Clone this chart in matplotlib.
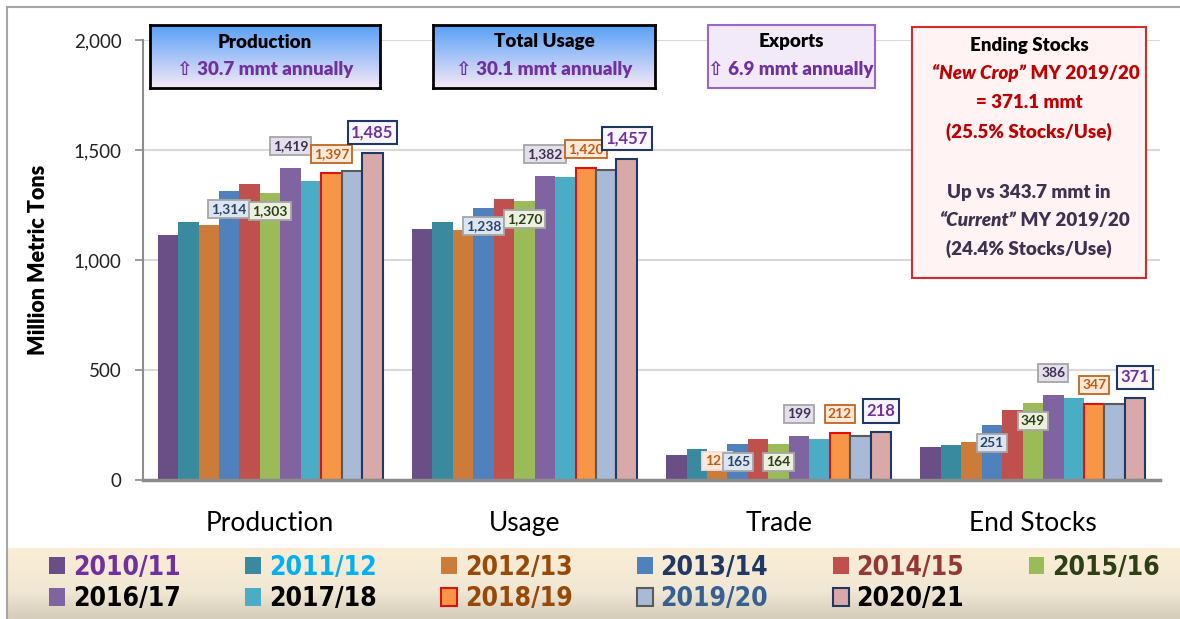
import numpy as np
import matplotlib.pyplot as plt
from matplotlib.patches import Rectangle

plt.rcParams['font.family'] = ['Lato', 'DejaVu Sans']

categories = ['Production', 'Usage', 'Trade', 'End Stocks']
years = ['2010/11', '2011/12', '2012/13', '2013/14', '2014/15', '2015/16',
         '2016/17', '2017/18', '2018/19', '2019/20', '2020/21']
production = [1113, 1173, 1161, 1314, 1346, 1303, 1419, 1358, 1397, 1403, 1485]
usage = [1142, 1172, 1137, 1238, 1279, 1270, 1382, 1376, 1420, 1409, 1457]
trade = [114, 143, 123, 165, 186, 164, 199, 186, 212, 201, 218]
end_stocks = [152, 157, 175, 251, 319, 349, 386, 374, 347, 345, 371]

# which bars carry a value label, per category
labeled = [[3, 5, 6, 8, 10], [3, 5, 6, 8, 10], [2, 3, 5, 6, 8, 10], [3, 5, 6, 8, 10]]

bar_colors = ['#6A4E86', '#3A8A9F', '#CD7B38', '#4F81BD', '#C0504D', '#9BBB59',
              '#8064A2', '#4BACC6', '#F79646', '#A9BAD6', '#D9A8A8']
edge_colors = ['none'] * 8 + ['#E01010', '#5A5A5A', '#1F3864']
legend_colors = ['#7030A0', '#00B0F0', '#984807', '#1F3864', '#953735', '#2C3F16',
                 'black', 'black', '#984807', '#366092', 'black']

# label look per series: face, edge, text colour, size, offset (px)
label_style = {
    2: ('#FDEADA', '#F2DCDB', '#C55A11', 10, -8),
    3: ('#DCE6F2', '#A6A6A6', '#2B4468', 10, -18),
    5: ('#EBF1DE', '#A6A6A6', '#2C3F16', 10, -18),
    6: ('#E4DFEC', '#A6A6A6', '#403151', 10, 22),
    8: ('#FDEADA', '#C0651E', '#C55A11', 10, 19),
    10: ('#F9F7FD', '#1F3864', '#7030A0', 12, 21),
}

W, H = 1180, 619
fig = plt.figure(figsize=(W / 100, H / 100), dpi=100)
fig.patch.set_facecolor('white')


def fbox(x0, y0, x1, y1):
    return [x0 / W, 1 - y1 / H, (x1 - x0) / W, (y1 - y0) / H]


def fx(x):
    return x / W


def fy(y):
    return 1 - y / H


ax = fig.add_axes(fbox(143, 40, 1160, 480))

values = np.array([production, usage, trade, end_stocks])
x = np.arange(len(categories))
n = len(years)
w = 0.885 / n

handles = []
for i in range(n):
    ec = edge_colors[i]
    b = ax.bar(x + (i - (n - 1) / 2) * w, values[:, i], w, color=bar_colors[i],
               edgecolor=ec, linewidth=1.5 if ec != 'none' else 0, zorder=2,
               label=years[i])
    handles.append(b)

for c in range(len(categories)):
    for i in labeled[c]:
        fc, ecl, tc, fs, off = label_style[i]
        v = values[c, i]
        ax.annotate(f'{v:,}', xy=(x[c] + (i - (n - 1) / 2) * w, v),
                    xytext=(0, off * 0.72), textcoords='offset points',
                    ha='center', va='center', fontsize=fs, fontweight='bold',
                    color=tc, zorder=4,
                    bbox=dict(boxstyle='square,pad=0.22', fc=fc, ec=ecl,
                              lw=1.5 if i == 10 else 1.3))

ax.set_xlim(-0.5, 3.5)
ax.set_ylim(0, 2000)
ax.set_yticks([0, 500, 1000, 1500, 2000])
ax.set_yticklabels(['0', '500', '1,000', '1,500', '2,000'])
ax.set_xticks(x)
ax.set_xticklabels(categories)
ax.tick_params(axis='x', length=0, pad=22, labelsize=19)
ax.tick_params(axis='y', length=5.5, width=1.2, pad=10, labelsize=13.5,
               colors='#8C8C8C', labelcolor='#222222')
ax.grid(axis='y', color='#D9D9D9', linewidth=1.5)
ax.set_axisbelow(True)
for s in ['top', 'right']:
    ax.spines[s].set_visible(False)
ax.spines['left'].set_color('#8C8C8C')
ax.spines['left'].set_linewidth(1.5)
ax.spines['bottom'].set_color('#8C8C8C')
ax.spines['bottom'].set_linewidth(2.5)
ax.set_ylabel('Million Metric Tons', fontsize=15.5, fontweight='heavy')
ax.yaxis.set_label_coords(-0.092, 0.5)

# gradient boxes for Production and Total Usage
top = np.array([88, 160, 246]) / 255
bot = np.array([246, 233, 247]) / 255
t = np.linspace(0, 1, 100)[:, None]
grad = (top * (1 - t) + bot * t)[:, None, :]
for (x0, x1), title, sub in [((150, 380), 'Production', '⇧ 30.7 mmt annually'),
                             ((433, 655), 'Total Usage', '⇧ 30.1 mmt annually')]:
    bx = fig.add_axes(fbox(x0, 25, x1, 88))
    bx.imshow(grad, aspect='auto', extent=(0, 1, 0, 1))
    bx.set_xticks([])
    bx.set_yticks([])
    for s in bx.spines.values():
        s.set_linewidth(2)
        s.set_color('black')
    cx = (x0 + x1) / 2
    fig.text(fx(cx), fy(42), title, ha='center', va='center', fontsize=13.5,
             fontweight='heavy', color='black')
    fig.text(fx(cx), fy(69), sub, ha='center', va='center', fontsize=13.5,
             fontweight='heavy', color='#7030A0')

# exports box
fig.add_artist(Rectangle((fx(708), fy(88)), (875 - 708) / W, 63 / H,
                         transform=fig.transFigure, fc='#F2EAF9', ec='#9966CC',
                         lw=1.5, zorder=2.5))
fig.text(fx(791), fy(41), 'Exports', ha='center', va='center', fontsize=13.5,
         fontweight='heavy', color='black')
fig.text(fx(791), fy(69), '⇧ 6.9 mmt annually', ha='center', va='center',
         fontsize=13.5, fontweight='heavy', color='#7030A0')

# ending stocks box
fig.add_artist(Rectangle((fx(912), fy(278)), (1146 - 912) / W, (278 - 27) / H,
                         transform=fig.transFigure, fc='#FFF3F3', ec='#D42A2A',
                         lw=1.5, zorder=2.5))
red = '#C00000'
dark = '#403151'
cx = 1029
fs_box = 13.5
fig.text(fx(cx), fy(45), 'Ending Stocks', ha='center', va='center',
         fontsize=fs_box, fontweight='heavy', color='black')
fig.text(fx(1026), fy(73), '\u201cNew Crop\u201d', ha='right', va='center',
         fontsize=fs_box, fontweight='heavy', style='italic', color=red)
fig.text(fx(1026), fy(73), ' MY 2019/20', ha='left', va='center',
         fontsize=fs_box, fontweight='heavy', color=red)
fig.text(fx(cx), fy(103), '= 371.1 mmt', ha='center', va='center',
         fontsize=fs_box, fontweight='heavy', color=red)
fig.text(fx(cx), fy(132), '(25.5% Stocks/Use)', ha='center', va='center',
         fontsize=fs_box, fontweight='heavy', color=red)
fig.text(fx(cx), fy(192), 'Up vs 343.7 mmt in', ha='center', va='center',
         fontsize=fs_box, fontweight='heavy', color=dark)
fig.text(fx(1016), fy(220), '\u201cCurrent\u201d', ha='right', va='center',
         fontsize=fs_box, fontweight='heavy', style='italic', color=dark)
fig.text(fx(1016), fy(220), ' MY 2019/20', ha='left', va='center',
         fontsize=fs_box, fontweight='heavy', color=dark)
fig.text(fx(cx), fy(249), '(24.4% Stocks/Use)', ha='center', va='center',
         fontsize=fs_box, fontweight='heavy', color=dark)

# legend band
lb = fig.add_axes(fbox(7, 548, 1180, 619))
c1 = np.array([252, 238, 214]) / 255
c2 = np.array([240, 231, 212]) / 255
c3 = np.array([214, 204, 186]) / 255
t = np.linspace(0, 1, 100)[:, None]
band = np.where(t < 0.6, c1 * (1 - t / 0.6) + c2 * (t / 0.6),
                c2 * (1 - (t - 0.6) / 0.4) + c3 * ((t - 0.6) / 0.4))
lb.imshow(band[:, None, :], aspect='auto', extent=(0, 1, 0, 1))
lb.set_axis_off()

order = [0, 6, 1, 7, 2, 8, 3, 9, 4, 10, 5]
leg = fig.legend([handles[i] for i in order], [years[i] for i in order],
                 loc='center', bbox_to_anchor=(fx(49), fy(619), (1160 - 49) / W, 71 / H),
                 mode='expand', ncol=6, frameon=False,
                 prop={'family': ['DejaVu Sans'], 'stretch': 'condensed',
                       'weight': 'bold', 'size': 19},
                 handlelength=0.6, handleheight=0.65, handletextpad=0.3,
                 borderaxespad=0, labelspacing=0.2, borderpad=0)
for txt, i in zip(leg.get_texts(), order):
    txt.set_color(legend_colors[i])

# outer frame
fig.add_artist(Rectangle((fx(7), -0.1), 1.2, fy(6.7) + 0.1,
                         transform=fig.transFigure, fill=False, ec='#A6A6A6',
                         lw=1.5, zorder=6))

fig.savefig('out.png', dpi=100)
